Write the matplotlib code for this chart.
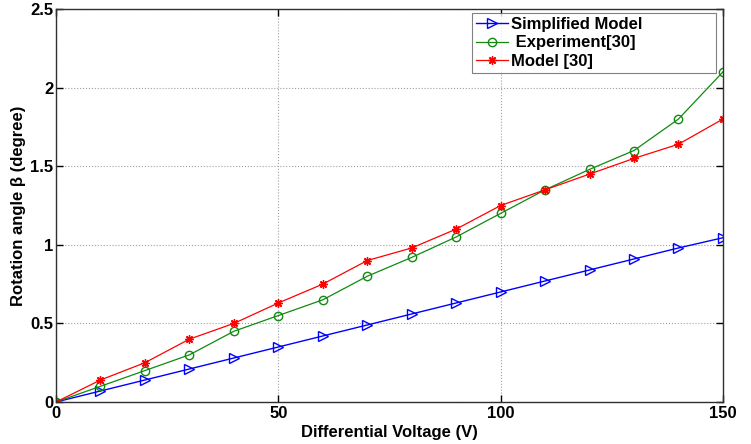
import matplotlib
matplotlib.use('AGG')
import matplotlib.pyplot as plt
import numpy as np
from matplotlib import rcParams

rcParams['font.family'] = ['Liberation Sans', 'DejaVu Sans']
rcParams['font.weight'] = 'bold'
rcParams['xtick.direction'] = 'in'
rcParams['ytick.direction'] = 'in'

filename = "out"

voltage = [0, 10, 20, 30, 40, 50, 60, 70, 80, 90, 100, 110, 120, 130, 140, 150]
simplified = [0, 0.07, 0.14, 0.21, 0.28, 0.35, 0.42, 0.49, 0.56, 0.63, 0.70,
              0.77, 0.84, 0.91, 0.98, 1.045]
experiment = [0, 0.10, 0.20, 0.30, 0.45, 0.55, 0.65, 0.80, 0.92, 1.05, 1.20,
              1.35, 1.48, 1.60, 1.80, 2.10]
model = [0, 0.14, 0.25, 0.40, 0.50, 0.63, 0.75, 0.90, 0.98, 1.10, 1.25,
         1.35, 1.45, 1.55, 1.64, 1.80]

fig = plt.figure(figsize=(7.51, 4.44), dpi=100)
ax = fig.add_axes([0.0746, 0.0946, 0.888, 0.885])

ax.plot(voltage, simplified, color='#0000ff', marker='>', markersize=7,
        markerfacecolor='none', linewidth=1.0, label='Simplified Model')
ax.plot(voltage, experiment, color='#108a10', marker='o', markersize=6,
        markerfacecolor='none', linewidth=0.9, label=' Experiment[30]')
ax.plot(voltage, model, color='#ff0000', marker=(8, 2, 0), markersize=6,
        markeredgewidth=1.0, linewidth=0.9, label='Model [30]')

ax.set_xlim([0, 150])
ax.set_ylim([0, 2.5])
ax.set_xticks([0, 50, 100, 150])
ax.set_yticks([0, 0.5, 1, 1.5, 2, 2.5])
ax.set_yticklabels(['0', '0.5', '1', '1.5', '2', '2.5'])
ax.grid(True, linestyle=':', color='#a0a0a0', linewidth=0.8)
ax.tick_params(top=True, right=True, labelsize=12, length=5, width=1, pad=2)
ax.tick_params(axis='x', pad=3)
for s in ax.spines.values():
    s.set_linewidth(1.0)
    s.set_color('#303030')

ax.xaxis.set_label_text('Differential Voltage (V)', fontsize=12, fontweight='bold')
ax.yaxis.set_label_text('Rotation angle β (degree)', fontsize=12, fontweight='bold')
ax.xaxis.labelpad = 3
ax.yaxis.labelpad = 3

leg = ax.legend(loc='upper left', bbox_to_anchor=(0.624, 0.832, 0.366, 0.158),
                mode='expand', borderaxespad=0, fontsize=12, frameon=True,
                fancybox=False, handlelength=1.9, handletextpad=0.2,
                labelspacing=0.2, borderpad=0.25)
leg.get_frame().set_edgecolor('#606060')
leg.get_frame().set_linewidth(0.8)

plt.savefig(filename + ".png", dpi=100)
